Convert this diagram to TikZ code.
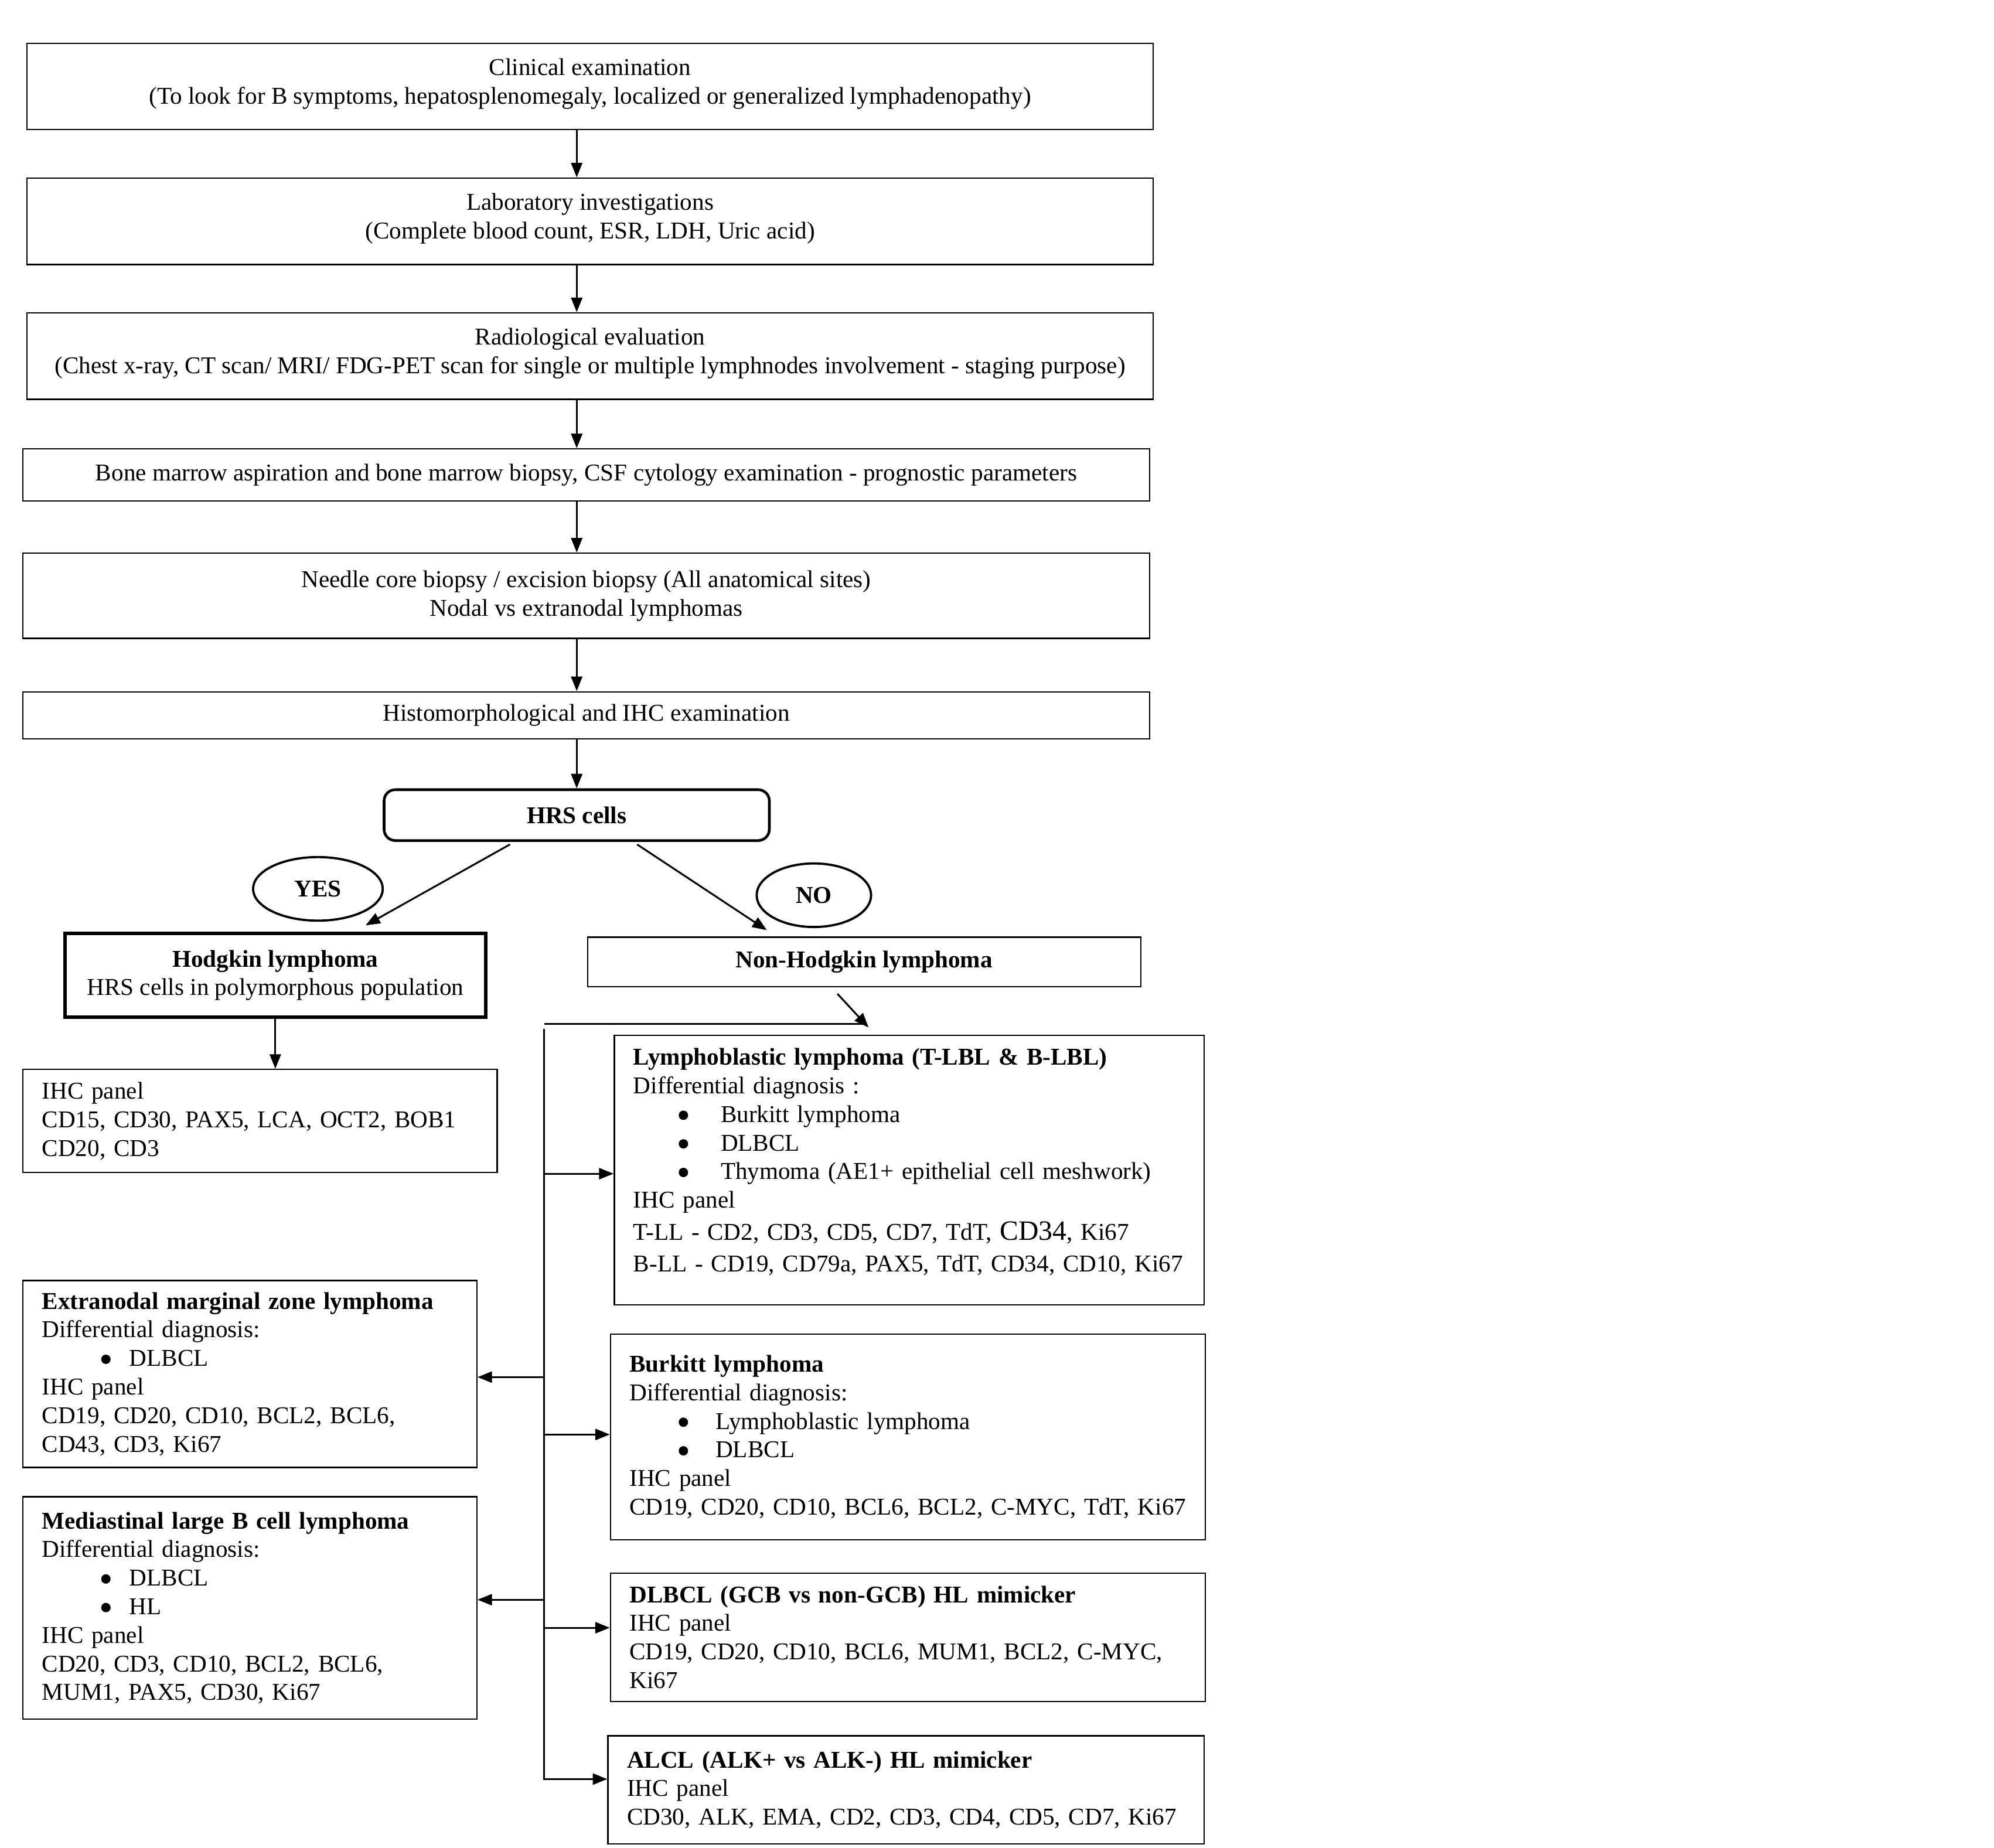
\documentclass[tikz,border=0pt]{standalone}
\usepackage{fontspec}
\setmainfont{Liberation Serif}
\usetikzlibrary{arrows.meta,calc,shapes.geometric}
\newcommand{\bigbul}{\hspace*{0.8pt}\tikz[baseline={(0pt,-3.1pt)}]\fill (0pt,0pt) circle (2.1pt);}
\begin{document}
\begin{tikzpicture}[x=0.02cm,y=-0.02cm,
  every node/.style={font=\fontsize{10.8pt}{12.8pt}\selectfont},
  box/.style={draw, line width=0.6pt, inner sep=0pt, align=center},
  lbox/.style={draw, line width=0.6pt, inner xsep=0.3cm, inner ysep=0pt, align=left},
  thickbox/.style={draw, line width=1.5pt, inner sep=0pt, align=center},
  roundbox/.style={draw, line width=1.2pt, rounded corners=5pt, inner sep=0pt, align=center},
  oval/.style={draw, ellipse, line width=1pt, inner sep=0pt},
  arr/.style={line width=0.8pt, -{Triangle[length=6.5pt,width=5pt]}},
  plain/.style={line width=0.8pt}]
\path[use as bounding box, fill=white] (0,0) rectangle (1568,1453);

% main vertical chain
\node[box, minimum width=17.72cm, minimum height=1.36cm] (clin) at (464,68)
  {Clinical examination\\(To look for B symptoms, hepatosplenomegaly, localized or generalized lymphadenopathy)\\[-8pt]\mbox{}};
\node[box, minimum width=17.72cm, minimum height=1.36cm] (lab) at (464,174)
  {Laboratory investigations\\(Complete blood count, ESR, LDH, Uric acid)\\[-8pt]\mbox{}};
\node[box, minimum width=17.72cm, minimum height=1.36cm] (rad) at (464,280)
  {Radiological evaluation\\(Chest x-ray, CT scan/ MRI/ FDG-PET scan for single or multiple lymphnodes involvement - staging purpose)\\[-8pt]\mbox{}};
\node[box, minimum width=17.72cm, minimum height=0.82cm] (bm) at (461,373.5)
  {Bone marrow aspiration and bone marrow biopsy, CSF cytology examination - prognostic parameters};
\node[box, minimum width=17.72cm, minimum height=1.34cm] (needle) at (461,468.5)
  {Needle core biopsy / excision biopsy (All anatomical sites)\\Nodal vs extranodal lymphomas};
\node[box, minimum width=17.72cm, minimum height=0.74cm] (histo) at (461,562.5)
  {Histomorphological and IHC examination};
\node[roundbox, minimum width=6.06cm, minimum height=0.8cm] (hrs) at (453.5,641)
  {\textbf{HRS cells}};

\node[oval, minimum width=2.04cm, minimum height=1.0cm] (yes) at (250,699) {\textbf{YES}};
\node[oval, minimum width=1.8cm, minimum height=1.0cm] (no) at (640,704) {\textbf{NO}};

\node[thickbox, minimum width=6.62cm, minimum height=1.32cm] (hodg) at (216.5,767)
  {\textbf{Hodgkin lymphoma}\\HRS cells in polymorphous population};
\node[box, minimum width=8.7cm, minimum height=0.78cm] (nhl) at (679.5,756.5)
  {\textbf{Non-Hodgkin lymphoma}};

\node[lbox, text width=6.86cm, minimum height=1.62cm] (hihc) at (204.5,881.5)
  {IHC panel\\CD15, CD30, PAX5, LCA, OCT2, BOB1\\CD20, CD3};

% right column
\node[lbox, text width=8.68cm, minimum height=4.24cm] (lbl) at (715,920)
  {\textbf{Lymphoblastic lymphoma (T-LBL \& B-LBL)}\\
   Differential diagnosis :\\
   \hspace*{19.5pt}\makebox[19.6pt][l]{\bigbul}Burkitt lymphoma\\
   \hspace*{19.5pt}\makebox[19.6pt][l]{\bigbul}DLBCL\\
   \hspace*{19.5pt}\makebox[19.6pt][l]{\bigbul}\mbox{Thymoma (AE1+ epithelial cell meshwork)}\\
   IHC panel\\[1.5pt]
   \mbox{T-LL - CD2, CD3, CD5, CD7, TdT, {\fontsize{12.5pt}{12.5pt}\selectfont CD34}, Ki67}\\[1.5pt]
   \mbox{B-LL - CD19, CD79a, PAX5, TdT, CD34, CD10, Ki67}\\[-4pt]\mbox{}};
\node[lbox, text width=8.76cm, minimum height=3.24cm] (burk) at (714,1130)
  {\textbf{Burkitt lymphoma}\\
   Differential diagnosis:\\
   \hspace*{21.2pt}\makebox[17.3pt][l]{\bigbul}Lymphoblastic lymphoma\\
   \hspace*{21.2pt}\makebox[17.3pt][l]{\bigbul}DLBCL\\
   IHC panel\\
   \mbox{CD19, CD20, CD10, BCL6, BCL2, C-MYC, TdT, Ki67}};
\node[lbox, text width=8.76cm, minimum height=2.02cm] (dlbcl) at (714,1287.5)
  {\textbf{DLBCL (GCB vs non-GCB) HL mimicker}\\
   IHC panel\\
   \mbox{CD19, CD20, CD10, BCL6, MUM1, BCL2, C-MYC,}\\
   Ki67};
\node[lbox, text width=8.78cm, minimum height=1.7cm] (alcl) at (712.5,1407.5)
  {\textbf{ALCL (ALK+ vs ALK-) HL mimicker}\\
   IHC panel\\
   \mbox{CD30, ALK, EMA, CD2, CD3, CD4, CD5, CD7, Ki67}};

% left column
\node[lbox, text width=6.54cm, minimum height=2.94cm] (emzl) at (196.5,1080.5)
  {\textbf{Extranodal marginal zone lymphoma}\\
   Differential diagnosis:\\
   \hspace*{25.7pt}\makebox[13.4pt][l]{\bigbul}DLBCL\\
   IHC panel\\
   CD19, CD20, CD10, BCL2, BCL6,\\
   CD43, CD3, Ki67};
\node[lbox, text width=6.54cm, minimum height=3.5cm] (mlbcl) at (196.5,1264.5)
  {\textbf{Mediastinal large B cell lymphoma}\\
   Differential diagnosis:\\
   \hspace*{25.7pt}\makebox[13.4pt][l]{\bigbul}DLBCL\\
   \hspace*{25.7pt}\makebox[13.4pt][l]{\bigbul}HL\\
   IHC panel\\
   CD20, CD3, CD10, BCL2, BCL6,\\
   MUM1, PAX5, CD30, Ki67};

% vertical chain arrows
\draw[arr] (clin.south -| hrs.north) -- (lab.north -| hrs.north);
\draw[arr] (lab.south -| hrs.north) -- (rad.north -| hrs.north);
\draw[arr] (rad.south -| hrs.north) -- (bm.north -| hrs.north);
\draw[arr] (bm.south -| hrs.north) -- (needle.north -| hrs.north);
\draw[arr] (needle.south -| hrs.north) -- (histo.north -| hrs.north);
\draw[arr] (histo.south -| hrs.north) -- (hrs.north);

% HRS split
\draw[arr] ($(hrs.south)+(-52.5,2)$) -- ($(hodg.north)+(71,-5)$);
\draw[arr] ($(hrs.south)+(47.5,2)$) -- ($(nhl.north)+(-76.5,-5)$);

% Hodgkin to IHC
\draw[arr] (hodg.south) -- (hihc.north -| hodg.south);

% Non-Hodgkin branch
\coordinate (hl) at (428,805);
\coordinate (hr) at (680,805);
\coordinate (nhltip) at (683,808);
\coordinate (ttop) at (428,809);
\draw[plain] (hl) -- (hr);
\draw[arr] ($(nhl.south)+(-21,5)$) -- (nhltip);

\coordinate (alclin) at ([yshift=4.8pt]alcl.west);
\coordinate (lblin) at ([yshift=-1.7pt]lbl.west);
\coordinate (burkin) at ([yshift=1.1pt]burk.west);
\coordinate (dlbclin) at ([yshift=4.25pt]dlbcl.west);
\coordinate (emzlin) at ([yshift=-1.4pt]emzl.east);
\coordinate (mlbclin) at ([yshift=3.7pt]mlbcl.east);

\draw[arr] (ttop) |- (alclin);
\draw[arr] (lblin -| ttop) -- (lblin);
\draw[arr] (burkin -| ttop) -- (burkin);
\draw[arr] (dlbclin -| ttop) -- (dlbclin);
\draw[arr] (emzlin -| ttop) -- (emzlin);
\draw[arr] (mlbclin -| ttop) -- (mlbclin);
\end{tikzpicture}
\end{document}
